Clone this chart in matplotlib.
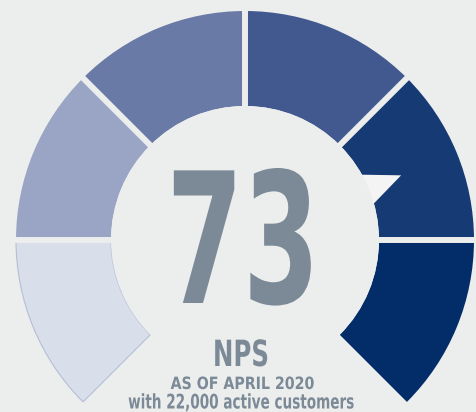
import numpy as np
import matplotlib
matplotlib.use("Agg")
import matplotlib.pyplot as plt
from matplotlib.patches import Wedge, Polygon, Circle
from matplotlib.patheffects import AbstractPathEffect
from matplotlib.transforms import Affine2D
from matplotlib.path import Path

# ---- data ----
nps_value = 73
value_label = "73"
title_label = "NPS"
date_label = "AS OF APRIL 2020"
sub_label = "with 22,000 active customers"
# band edges on the NPS scale (7 edges -> 6 bands), from left end to right end
band_edges = [-100, -60, -20, 20, 60, 86, 100]
band_colors = ["#D9DFEA", "#9AA5C5", "#6A7AA6", "#42598F", "#163A74", "#032D69"]

# ---- style ----
BG = "#ECEDED"
TXT = "#7B8A96"
W, H = 476, 412
CX, CY = 245, H - 240
R_OUT, R_IN = 229, 134
ang_edges = np.linspace(225, -45, len(band_edges))  # angle of each band edge


class FitWidth(AbstractPathEffect):
    """Draw text compressed horizontally to a given ink width (condensed look)."""
    def __init__(self, width_px):
        super().__init__()
        self.w = width_px

    def draw_path(self, renderer, gc, tpath, affine, rgbFace=None):
        v = tpath.vertices
        if tpath.codes is not None:
            v = v[tpath.codes != Path.CLOSEPOLY]
        if len(v) == 0:
            return
        d = affine.transform(v)
        x0, x1 = d[:, 0].min(), d[:, 0].max()
        cx = (x0 + x1) / 2
        s = self.w / max(x1 - x0, 1e-6)
        new = affine + Affine2D().translate(-cx, 0).scale(s, 1).translate(cx, 0)
        renderer.draw_path(gc, tpath, new, rgbFace)


fig = plt.figure(figsize=(W / 100, H / 100), dpi=100, facecolor=BG)
ax = fig.add_axes([0, 0, 1, 1])
ax.set_xlim(0, W)
ax.set_ylim(0, H)
ax.set_aspect("equal")
ax.axis("off")
ax.set_facecolor(BG)

# bands
for i, col in enumerate(band_colors):
    t1, t2 = ang_edges[i + 1], ang_edges[i]
    ec = "#B4BED6" if i == 0 else col
    lw = 0.8 if i == 0 else 0
    ax.add_patch(Wedge((CX, CY), R_OUT, t1, t2, width=R_OUT - R_IN,
                       facecolor=col, edgecolor=ec, linewidth=lw, zorder=1))

# gaps between bands
for a in ang_edges[1:-1]:
    r = np.radians(a)
    ax.plot([CX + (R_IN - 5) * np.cos(r), CX + (R_OUT + 5) * np.cos(r)],
            [CY + (R_IN - 5) * np.sin(r), CY + (R_OUT + 5) * np.sin(r)],
            color=BG, lw=4.3, solid_capstyle="butt", zorder=2)

# pointer: value mapped through the band scale to an angle
theta = np.interp(nps_value, band_edges, ang_edges)
th = np.radians(theta)
half = np.radians(8.8)
tri = [(CX + 169 * np.cos(th), CY + 169 * np.sin(th)),
       (CX + 126 * np.cos(th + half), CY + 126 * np.sin(th + half)),
       (CX + 126 * np.cos(th - half), CY + 126 * np.sin(th - half))]
ax.add_patch(Polygon(tri, closed=True, facecolor="#F4F4F4", edgecolor="none", zorder=3))
ax.add_patch(Circle((CX, CY), R_IN, facecolor=BG, edgecolor="none", zorder=4))

fam = ["Liberation Sans Narrow", "DejaVu Sans"]
ax.text(243.5, H - 303, value_label, ha="center", va="baseline", fontsize=131,
        fontweight="bold", family=fam, color=TXT, zorder=5,
        path_effects=[FitWidth(137)])
ax.text(241, H - 366, title_label, ha="center", va="baseline", fontsize=26,
        fontweight="bold", family=fam, color=TXT, zorder=5,
        path_effects=[FitWidth(52)])
ax.text(242, H - 389, date_label, ha="center", va="baseline", fontsize=12.2,
        fontweight="bold", family=fam, color=TXT, zorder=5,
        path_effects=[FitWidth(143)])
ax.text(241.5, H - 408.5, sub_label, ha="center", va="baseline", fontsize=14.5,
        fontweight="bold", family=fam, color=TXT, zorder=5,
        path_effects=[FitWidth(225)])

fig.savefig("out.png", dpi=100, facecolor=BG)
